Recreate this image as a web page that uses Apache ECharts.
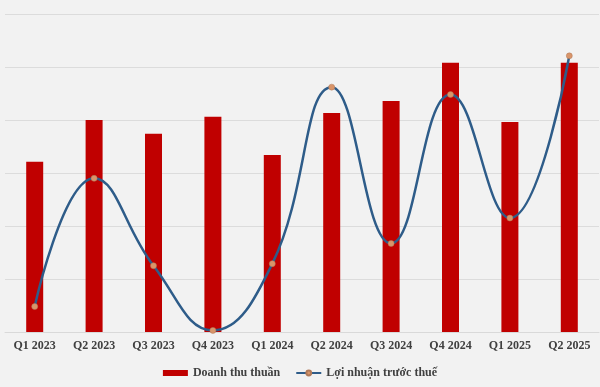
<!DOCTYPE html>
<html>
<head>
<meta charset="utf-8">
<script src="https://cdn.jsdelivr.net/npm/echarts@6/dist/echarts.min.js"></script>
<style>
html,body{margin:0;padding:0;background:#f2f2f2;}
#chart{width:600px;height:387px;}
</style>
</head>
<body>
<div id="chart"></div>
<script>
const categories = ['Q1 2023','Q2 2023','Q3 2023','Q4 2023','Q1 2024','Q2 2024','Q3 2024','Q4 2024','Q1 2025','Q2 2025'];
const revenue = [3.21, 4.00, 3.74, 4.06, 3.34, 4.13, 4.36, 5.08, 3.96, 5.08];
const profit = [0.48, 2.90, 1.25, 0.03, 1.29, 4.62, 1.67, 4.48, 2.15, 5.21];
const seriesNames = ['Doanh thu thuần', 'Lợi nhuận trước thuế'];

const chart = echarts.init(document.getElementById('chart'));
const font = '"Liberation Serif", "Times New Roman", serif';
chart.setOption({
  backgroundColor: '#f2f2f2',
  animation: false,
  grid: {left: 5, right: 1, top: 14, bottom: 55},
  legend: {
    bottom: 3,
    left: 'center',
    itemGap: 15,
    textStyle: {fontFamily: font, fontWeight: 'bold', fontSize: 12, color: '#404040'},
    data: [
      {name: seriesNames[0], icon: 'rect', itemStyle: {color: '#c00000'}},
      {name: seriesNames[1]}
    ],
    itemWidth: 25,
    itemHeight: 6
  },
  xAxis: {
    type: 'category',
    data: categories,
    axisLine: {show: true, lineStyle: {color: '#d9d9d9'}},
    axisTick: {show: false},
    axisLabel: {fontFamily: font, fontWeight: 'bold', fontSize: 12, color: '#404040', margin: 8}
  },
  yAxis: {
    type: 'value',
    min: 0, max: 6, interval: 1,
    axisLabel: {show: false},
    axisLine: {show: false},
    axisTick: {show: false},
    splitLine: {lineStyle: {color: '#dcdcdc', width: 1}}
  },
  series: [
    {
      name: seriesNames[0],
      type: 'bar',
      data: revenue,
      barWidth: 17,
      itemStyle: {color: '#c00000'}
    },
    {
      name: seriesNames[1],
      type: 'line',
      data: profit,
      smooth: 0.45,
      symbol: 'circle',
      symbolSize: 6,
      lineStyle: {color: '#2e5c89', width: 2.5},
      itemStyle: {color: '#d9956a', borderColor: '#b07a5a', borderWidth: 0.5},
      z: 5
    }
  ]
});
</script>
</body>
</html>
